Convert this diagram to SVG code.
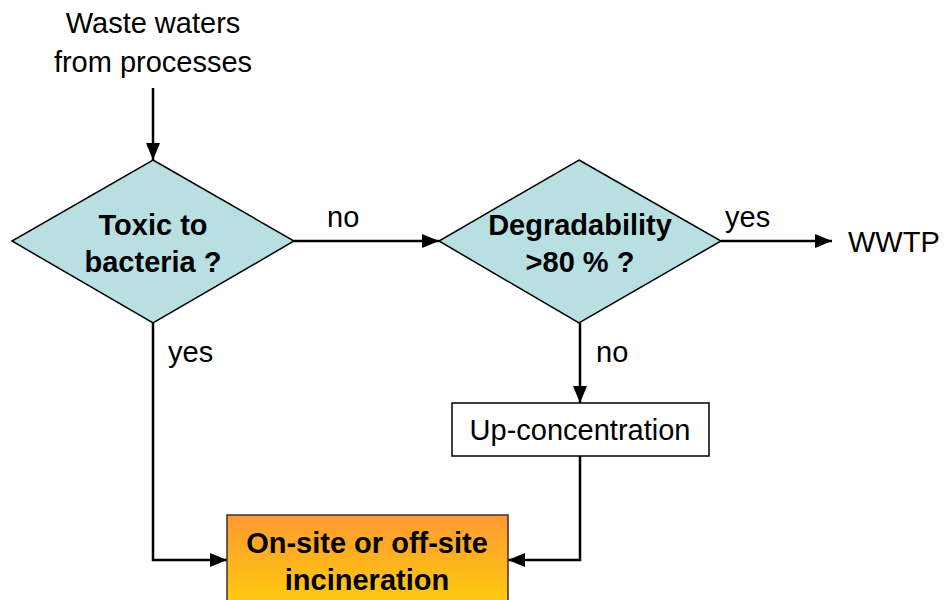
<svg xmlns="http://www.w3.org/2000/svg" width="944" height="600" viewBox="0 0 944 600">
<style>
text{font-family:"Liberation Sans",Arial,sans-serif;font-size:29px;fill:#000}
.b{font-weight:bold}
.dia{fill:#B8DFE1;stroke:#000;stroke-width:1.5}
.box{fill:#fff;stroke:#000;stroke-width:1.5}
.c{fill:none;stroke:#000;stroke-width:2.5}
</style>
<defs>
<marker id="ah" markerUnits="userSpaceOnUse" markerWidth="18" markerHeight="14" refX="17" refY="7" orient="auto">
<path d="M0,0 L17,7 L0,14 Z" fill="#000"/>
</marker>
<linearGradient id="og" x1="0" y1="0" x2="0" y2="1">
<stop offset="0" stop-color="#FF9933"/>
<stop offset="1" stop-color="#FFD10A"/>
</linearGradient>
</defs>
<g id="connectors">
<path class="c" d="M153,88 L153,160" marker-end="url(#ah)"/>
<path class="c" d="M294,241 L439,241" marker-end="url(#ah)"/>
<path class="c" d="M721,241 L832,241" marker-end="url(#ah)"/>
<path class="c" d="M580,323 L580,403" marker-end="url(#ah)"/>
<path class="c" d="M153,323 L153,560 L227,560" marker-end="url(#ah)"/>
<path class="c" d="M580,456 L580,560 L508,560" marker-end="url(#ah)"/>
<text x="327" y="227">no</text>
<text x="725" y="227">yes</text>
<text x="168" y="362">yes</text>
<text x="596" y="362">no</text>
</g>
<g id="source">
<text x="153" y="33" text-anchor="middle">Waste waters</text>
<text x="153" y="72" text-anchor="middle">from processes</text>
</g>
<g id="toxic">
<polygon class="dia" points="153,160 294,241 153,323 12,241"/>
<text class="b" x="153" y="235" text-anchor="middle">Toxic to</text>
<text class="b" x="153" y="272" text-anchor="middle">bacteria ?</text>
</g>
<g id="degradability">
<polygon class="dia" points="579,160 721,241 579,323 439,241"/>
<text class="b" x="580" y="235" text-anchor="middle">Degradability</text>
<text class="b" x="580" y="272" text-anchor="middle">&gt;80 % ?</text>
</g>
<g id="wwtp">
<text x="848" y="252">WWTP</text>
</g>
<g id="upconc">
<rect class="box" x="452" y="403" width="257" height="53"/>
<text x="580" y="440" text-anchor="middle">Up-concentration</text>
</g>
<g id="incineration">
<rect x="227" y="515" width="281" height="100" fill="url(#og)" stroke="#333" stroke-width="1.5"/>
<text class="b" x="367" y="553" text-anchor="middle">On-site or off-site</text>
<text class="b" x="367" y="590" text-anchor="middle">incineration</text>
</g>
</svg>
